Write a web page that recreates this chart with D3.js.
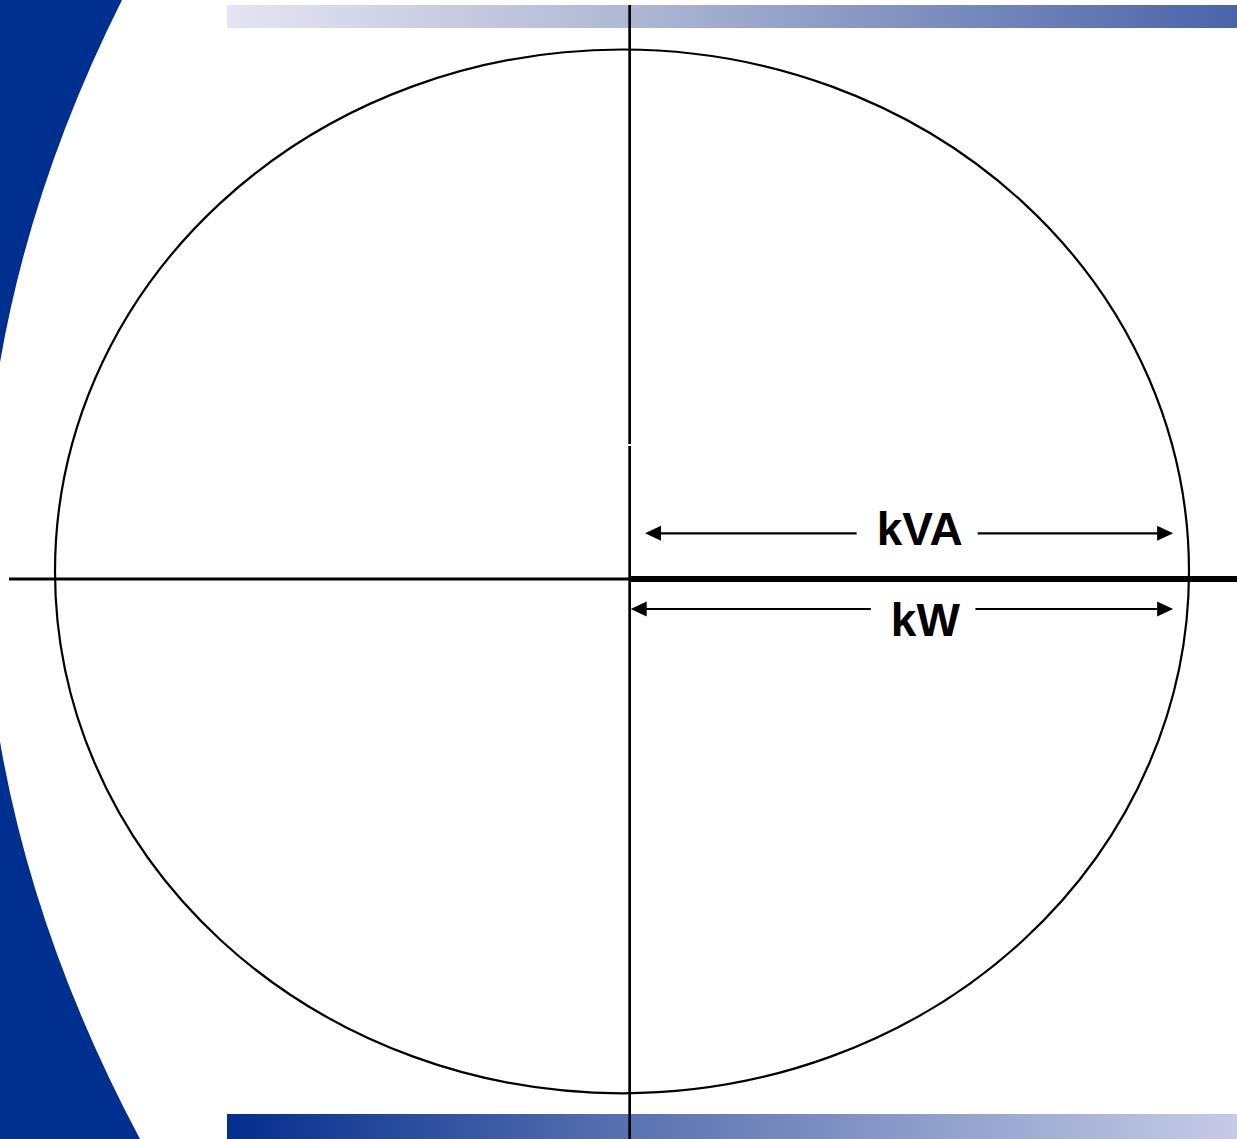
<!DOCTYPE html>
<html>
<head>
<meta charset="utf-8">
<script src="https://cdn.jsdelivr.net/npm/d3@7"></script>
<style>
  html, body { margin: 0; padding: 0; background: #ffffff; }
  svg { display: block; }
</style>
</head>
<body>
<svg id="chart" width="1237" height="1139"></svg>
<script>
// ---- data (in chart units, circle radius = 1) ----
const kvaMagnitude = 1.0;           // apparent power circle
const kwMagnitude = 1.0;            // real power along x axis
const axisOrigin = [0.0135, -0.0146];
const labels = ["kVA", "kW"];
const arrowY = [0.073, -0.072];
const arrowStart = [0.0406, 0.0153];
const arrowEnd = [0.972, 0.972];
const labelX = [0.525, 0.535];

const W = 1237, H = 1139;
const svg = d3.select("#chart");

const x = d3.scaleLinear().domain([-1, 1]).range([55, 1189]);
const y = d3.scaleLinear().domain([-1, 1]).range([1093.3, 49.5]);

const defs = svg.append("defs");
const gTop = defs.append("linearGradient").attr("id", "gTop").attr("x1", "0%").attr("x2", "100%");
gTop.append("stop").attr("offset", "0%").attr("stop-color", "#e6e4f3");
gTop.append("stop").attr("offset", "40%").attr("stop-color", "#aeb8d4");
gTop.append("stop").attr("offset", "100%").attr("stop-color", "#4a64a9");
const gBot = defs.append("linearGradient").attr("id", "gBot").attr("x1", "0%").attr("x2", "100%");
gBot.append("stop").attr("offset", "0%").attr("stop-color", "#032e8e");
gBot.append("stop").attr("offset", "40%").attr("stop-color", "#5a72b0");
gBot.append("stop").attr("offset", "100%").attr("stop-color", "#c6cbe7");

// decorative swoosh (smooth curved edge)
svg.append("path")
  .attr("d", "M122,0Q-163.3,569.5 140,1139L-20,1139L-20,0Z")
  .attr("fill", "#00308f");

// bars
svg.append("rect").attr("x", 227).attr("y", 5).attr("width", W - 227).attr("height", 23).attr("fill", "url(#gTop)");
svg.append("rect").attr("x", 227).attr("y", 1114).attr("width", W - 227).attr("height", 25).attr("fill", "url(#gBot)");

// kVA circle
svg.append("ellipse")
  .attr("cx", x(0)).attr("cy", y(0))
  .attr("rx", x(kvaMagnitude) - x(0)).attr("ry", y(0) - y(kvaMagnitude))
  .attr("fill", "none").attr("stroke", "#000").attr("stroke-width", 2.2);

const ox = x(axisOrigin[0]), oy = y(axisOrigin[1]);

// vertical axis (with tiny gap)
svg.append("line").attr("x1", ox).attr("x2", ox).attr("y1", 5).attr("y2", 444)
  .attr("stroke", "#000").attr("stroke-width", 2.7);
svg.append("line").attr("x1", ox).attr("x2", ox).attr("y1", 446).attr("y2", H)
  .attr("stroke", "#000").attr("stroke-width", 2.7);

// horizontal axis
svg.append("line").attr("x1", 9).attr("x2", W).attr("y1", oy).attr("y2", oy)
  .attr("stroke", "#000").attr("stroke-width", 3);
// kW thick segment
svg.append("line").attr("x1", ox).attr("x2", W).attr("y1", oy).attr("y2", oy)
  .attr("stroke", "#000").attr("stroke-width", 6);

// arrows + labels
labels.forEach((lab, i) => {
  const ay = y(arrowY[i]);
  const t = svg.append("text")
    .attr("x", x(labelX[i])).attr("y", ay)
    .attr("text-anchor", "middle")
    .attr("dy", i === 0 ? 11.5 : 27)
    .attr("font-family", "'Liberation Sans', Arial, sans-serif")
    .attr("font-weight", "bold")
    .attr("font-size", 46)
    .attr("fill", "#000")
    .text(lab);
  const bb = t.node().getBBox();
  const x0 = x(arrowStart[i]), x1 = x(arrowEnd[i]);
  const headL = 16, headW = 7.5;
  svg.append("line").attr("x1", x0 + headL - 2).attr("x2", bb.x - 20).attr("y1", ay).attr("y2", ay)
    .attr("stroke", "#000").attr("stroke-width", 2.2);
  svg.append("line").attr("x1", bb.x + bb.width + 15).attr("x2", x1 - headL + 2).attr("y1", ay).attr("y2", ay)
    .attr("stroke", "#000").attr("stroke-width", 2.2);
  svg.append("path")
    .attr("d", `M${x0},${ay}L${x0 + headL},${ay - headW}L${x0 + headL},${ay + headW}Z`)
    .attr("fill", "#000");
  svg.append("path")
    .attr("d", `M${x1},${ay}L${x1 - headL},${ay - headW}L${x1 - headL},${ay + headW}Z`)
    .attr("fill", "#000");
});
</script>
</body>
</html>
